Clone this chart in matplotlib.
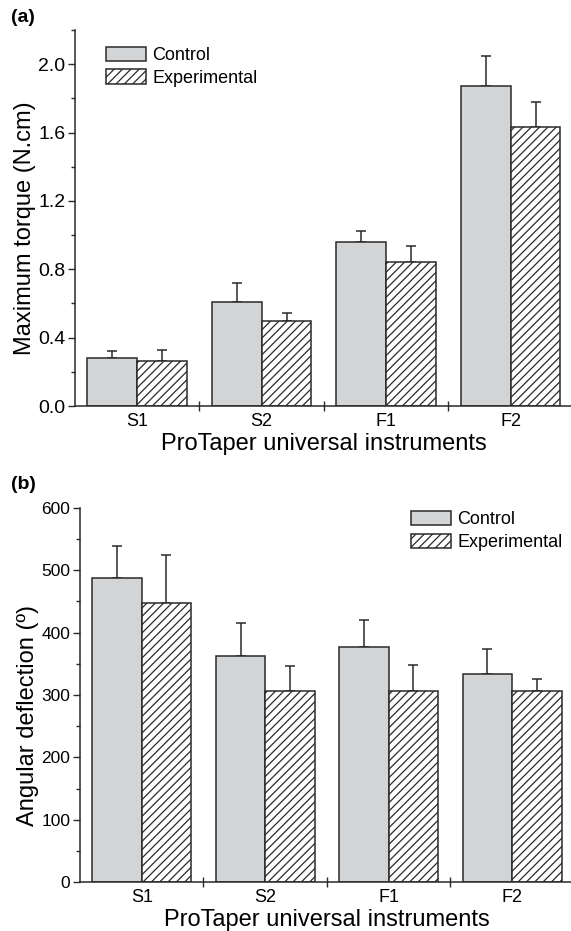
import numpy as np
import matplotlib
matplotlib.use("Agg")
import matplotlib.pyplot as plt
from matplotlib.ticker import MultipleLocator, FixedLocator, NullFormatter

plt.rcParams['font.family'] = ['Liberation Sans', 'DejaVu Sans']
plt.rcParams['hatch.linewidth'] = 0.9

# data
instruments = ["S1", "S2", "F1", "F2"]
groups = ["Control", "Experimental"]

torque_control = [0.28, 0.61, 0.96, 1.87]
torque_control_sd = [0.04, 0.11, 0.065, 0.18]
torque_exp = [0.265, 0.50, 0.84, 1.63]
torque_exp_sd = [0.065, 0.045, 0.095, 0.15]

deflect_control = [488, 362, 377, 333]
deflect_control_sd = [51, 53, 43, 40]
deflect_exp = [448, 307, 307, 306]
deflect_exp_sd = [76, 40, 41, 20]

GREY = "#d3d4d6"
EDGE = "#2a2a2a"


def draw_panel(ax, ctrl, ctrl_sd, exp, exp_sd, ymax, major, minor, fmt,
               ylabel, ylabel_xy, ytick_size, legend_anchor):
    x = np.arange(len(instruments))
    w = 0.4
    zeros = np.zeros(len(x))
    ax.bar(x - w / 2, ctrl, w, color=GREY, edgecolor=EDGE, linewidth=1.1,
           label=groups[0], zorder=2)
    ax.bar(x + w / 2, exp, w, color="white", edgecolor=EDGE, linewidth=1.1,
           hatch="////", label=groups[1], zorder=2)
    ax.errorbar(x - w / 2, ctrl, yerr=[zeros, ctrl_sd], fmt="none",
                ecolor=EDGE, elinewidth=1.1, capsize=3.6, capthick=1.1, zorder=1)
    ax.errorbar(x + w / 2, exp, yerr=[zeros, exp_sd], fmt="none",
                ecolor=EDGE, elinewidth=1.1, capsize=3.6, capthick=1.1, zorder=1)

    ax.set_xlim(-0.5, 3.5)
    ax.set_ylim(0, ymax)
    for s in ("top", "right"):
        ax.spines[s].set_visible(False)
    for s in ("left", "bottom"):
        ax.spines[s].set_linewidth(1.1)
        ax.spines[s].set_color(EDGE)

    # group boundaries as major ticks, labels on minor ticks
    ax.xaxis.set_major_locator(FixedLocator([0.5, 1.5, 2.5]))
    ax.xaxis.set_major_formatter(NullFormatter())
    ax.xaxis.set_minor_locator(FixedLocator(x))
    ax.set_xticklabels(instruments, minor=True)
    ax.tick_params(axis="x", which="major", direction="inout", length=7,
                   width=1, color=EDGE)
    ax.tick_params(axis="x", which="minor", length=0, labelsize=13, pad=5)

    ax.yaxis.set_major_locator(MultipleLocator(major))
    ax.yaxis.set_minor_locator(MultipleLocator(minor))
    ax.yaxis.set_major_formatter(fmt)
    ax.tick_params(axis="y", which="major", direction="out", length=5,
                   width=1, labelsize=ytick_size, color=EDGE, pad=2)
    ax.tick_params(axis="y", which="minor", direction="out", length=3,
                   width=1, color=EDGE)

    ax.set_xlabel("ProTaper universal instruments", fontsize=17, labelpad=2)
    ax.set_ylabel(ylabel, fontsize=17)
    ax.yaxis.set_label_coords(*ylabel_xy)

    ax.legend(loc="upper left", bbox_to_anchor=legend_anchor, frameon=False,
              fontsize=13, handlelength=2.2, handleheight=0.85,
              handletextpad=0.35, labelspacing=0.3, borderaxespad=0)


fig = plt.figure(figsize=(5.71, 9.31), dpi=100)

ax1 = fig.add_axes([0.1313, 0.5639, 0.872, 0.4039])
draw_panel(ax1, torque_control, torque_control_sd, torque_exp, torque_exp_sd,
           2.2, 0.4, 0.2, "{x:.1f}", "Maximum torque (N.cm)", (-0.078, 0.473),
           14, (0.048, 0.975))

ax2 = fig.add_axes([0.1401, 0.0526, 0.865, 0.4018])
draw_panel(ax2, deflect_control, deflect_control_sd, deflect_exp, deflect_exp_sd,
           600, 100, 50, "{x:.0f}", "Angular deflection (\u00ba)", (-0.083, 0.444),
           12.5, (0.656, 1.012))

fig.text(0.019, 0.981, "(a)", fontsize=14, fontweight="bold", va="center")
fig.text(0.019, 0.480, "(b)", fontsize=14, fontweight="bold", va="center")

fig.savefig("out.png", dpi=100)
